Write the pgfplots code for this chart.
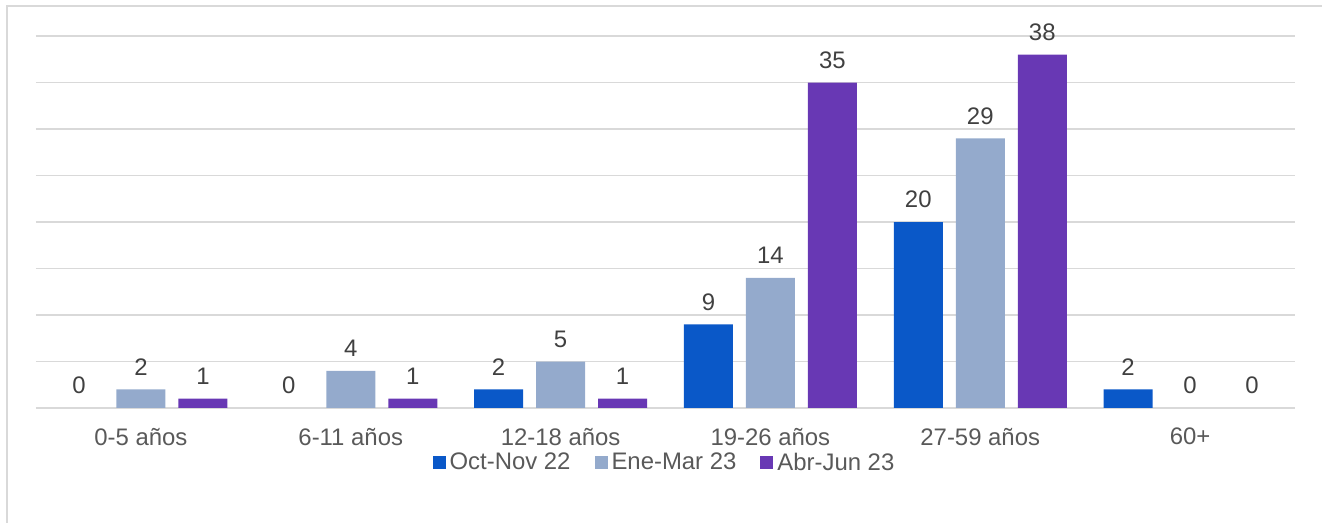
\documentclass[border=0pt]{standalone}
\usepackage{pgfplots}
\pgfplotsset{compat=1.18}
\usepackage{fontspec}
\setmainfont{Liberation Sans}
\definecolor{cblue}{RGB}{10,88,200}
\definecolor{cgray}{RGB}{148,170,204}
\definecolor{cpurp}{RGB}{104,56,180}
\definecolor{gridc}{RGB}{217,217,217}
\definecolor{txt}{RGB}{89,89,89}
\definecolor{dtxt}{RGB}{64,64,64}
\begin{document}
\begin{tikzpicture}
\useasboundingbox (-18bp,-57.5bp) rectangle (643bp,204bp);
\draw[gridc,line width=0.8bp] (-14.5bp,-60bp) -- (-14.5bp,201bp) -- (646bp,201bp);
\begin{axis}[
  at={(0,0)}, anchor=south west,
  scale only axis, width=629.5bp, height=186bp,
  ybar=6.5bp, bar width=24.5bp,
  xmin=-0.5, xmax=5.5, ymin=0, ymax=40,
  xtick={0,1,2,3,4,5},
  xticklabels={0-5 años,6-11 años,12-18 años,19-26 años,27-59 años,60+},
  ytick={0,5,...,40}, yticklabels={},
  ymajorgrids, grid style={gridc,line width=0.8bp},
  axis line style={draw=none},
  major tick length=0pt,
  /pgf/number format/assume math mode=true,
  tick label style={font=\fontsize{12}{14}\selectfont, text=txt},
  xticklabel style={yshift=-6.5bp},
  nodes near coords,
  every node near coord/.append style={font=\fontsize{12}{14}\selectfont, text=dtxt, yshift=3.5bp},
  legend style={at={(0.5,-0.098)}, anchor=north, draw=none, fill=none,
    legend columns=-1, font=\fontsize{12}{14}\selectfont, text=txt,
    /tikz/every even column/.append style={column sep=10bp}},
  legend image code/.code={\fill[#1] (0bp,-3.25bp) rectangle (6.5bp,3.25bp);},
]
\addplot[fill=cblue, draw=none] coordinates {(0,0) (1,0) (2,2) (3,9) (4,20) (5,2)};
\addplot[fill=cgray, draw=none] coordinates {(0,2) (1,4) (2,5) (3,14) (4,29) (5,0)};
\addplot[fill=cpurp, draw=none] coordinates {(0,1) (1,1) (2,1) (3,35) (4,38) (5,0)};
\legend{Oct-Nov 22, Ene-Mar 23, Abr-Jun 23}
\end{axis}
\end{tikzpicture}
\end{document}
